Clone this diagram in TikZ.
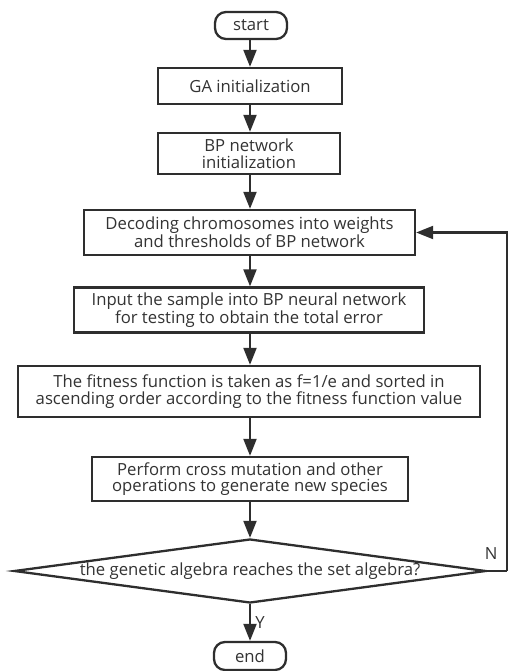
\documentclass[tikz,border=0pt]{standalone}
\usepackage{fontspec}
\setmainfont{Open Sans}
\usetikzlibrary{shapes.geometric, arrows.meta, positioning, calc}
\usepackage{xcolor}
\definecolor{Ink}{HTML}{333333}
\definecolor{Line}{HTML}{2E2E2E}

\begin{document}
\begin{tikzpicture}[
            x=1pt, y=-1pt,
            font=\fontsize{16.7}{16.5}\selectfont,
            stepbox/.style={
                rectangle,
                draw=Line,
                fill=white,
                line width=2.3pt,
                inner sep=0pt,
                align=center,
                text=Ink
            },
            endbox/.style={
                stepbox,
                rounded corners=11pt,
                minimum width=72pt,
                minimum height=27pt
            },
            decision/.style={
                diamond,
                draw=Line,
                fill=white,
                line width=2.3pt,
                inner sep=0pt,
                shape aspect=7.4,
                minimum width=472pt,
                minimum height=64pt,
                text=Ink
            },
            arrow/.style={-{Triangle[width=13pt,length=17pt]}, line width=2.1pt, color=Line},
            note/.style={text=Ink}
        ]
            \useasboundingbox (0,0) rectangle (508,671);

            \node[endbox] (start) at (251,25.5) {start};
            \node[stepbox, minimum width=184pt, minimum height=36pt] (ga) at (250,86) {GA initialization};
            \node[stepbox, minimum width=182pt, minimum height=41pt] (bpinit) at (249,153.5) {BP network\\initialization};
            \node[stepbox, minimum width=331pt, minimum height=45pt] (decode) at (249.5,232.5) {Decoding chromosomes into weights\\and thresholds of BP network};
            \node[stepbox, minimum width=350pt, minimum height=45pt] (input) at (249,310) {Input the sample into BP neural network\\for testing to obtain the total error};
            \node[stepbox, minimum width=462pt, minimum height=51pt] (fitness) at (249,391.5) {The fitness function is taken as f=1/e and sorted in\\ascending order according to the fitness function value};
            \node[stepbox, minimum width=316pt, minimum height=44pt] (cross) at (250,479) {Perform cross mutation and other\\operations to generate new species};
            \node[decision] (check) at (250,571) {the genetic algebra reaches the set algebra?};
            \node[endbox, minimum height=28pt] (end) at (250,656) {end};
            \coordinate (loop) at (507,571);

            % Main forward flow
            \draw[arrow] (start.south -| ga.north) -- (ga);
            \draw[arrow] (ga.south) -- (ga.south |- bpinit.north);
            \draw[arrow] (ga.south |- bpinit.south) -- (ga.south |- decode.north);
            \draw[arrow] (ga.south |- decode.south) -- (ga.south |- input.north);
            \draw[arrow] (ga.south |- input.south) -- (ga.south |- fitness.north);
            \draw[arrow] (ga.south |- fitness.south) -- (cross);
            \draw[arrow] (cross.south) -- (check.north);
            \draw[arrow] (check.south) -- node[right=1pt, note]{Y} (end.north);

            % Return path
            \draw[line width=2.1pt, color=Line] (check.east) -- node[pos=0.2, above=7pt, note]{N} (loop);
            \draw[arrow] (loop) |- (decode.east);
        \end{tikzpicture}
\end{document}
